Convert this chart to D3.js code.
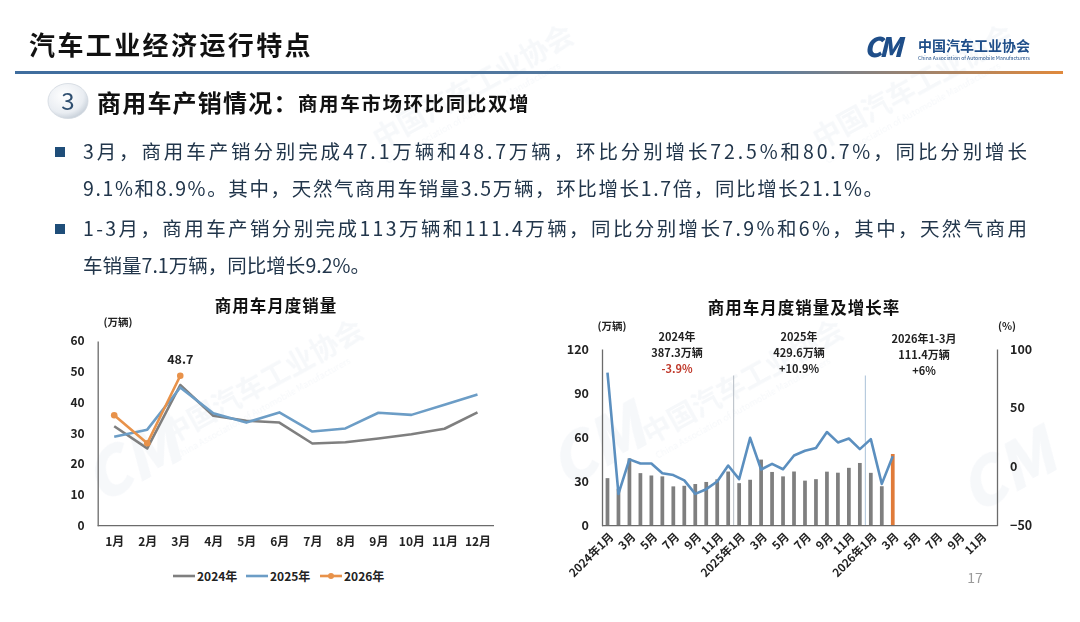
<!DOCTYPE html>
<html>
<head>
<meta charset="utf-8">
<script src="https://d3js.org/d3.v7.min.js"></script>
<style>
  body { margin: 0; background: #fff; }
  svg text { font-family: "Noto Sans CJK SC", "Noto Sans", sans-serif; }
</style>
</head>
<body>
<div id="slide"></div>
<script>
// ---- data ----
var months12 = ["1月","2月","3月","4月","5月","6月","7月","8月","9月","10月","11月","12月"];
var years = [2024, 2025, 2026];

// monthly sales, 10k vehicles
var sales2024 = [32.3, 25.1, 45.7, 35.7, 34.1, 33.5, 26.7, 27.1, 28.3, 29.7, 31.5, 36.8];
var sales2025 = [28.9, 31.2, 44.9, 36.5, 33.5, 36.8, 30.6, 31.6, 36.7, 36.0, 39.3, 42.6];
var sales2026 = [35.9, 26.8, 48.7];

// year-on-year growth, %
var growth2024 = [80, -23, 6.3, 2.8, 2.8, -5.5, -7, -11.5, -23, -19, -12.5, 1.1];
var growth2025 = [-10.5, 24.6, -2.3, 2.5, -2.1, 9.6, 13.6, 16, 29.5, 20.7, 24, 15];
var growth2026 = [23.5, -14.5, 8.9];

var leftTicks = [0, 10, 20, 30, 40, 50, 60];
var salesTicks = [0, 30, 60, 90, 120];
var growthTicks = [-50, 0, 50, 100];

var summaryYears = ["2024年", "2025年", "2026年1-3月"];
var summaryTotals = ["387.3万辆", "429.6万辆", "111.4万辆"];
var summaryGrowth = ["-3.9%", "+10.9%", "+6%"];

var bodyLines = [
  "3月，商用车产销分别完成47.1万辆和48.7万辆，环比分别增长72.5%和80.7%，同比分别增长",
  "9.1%和8.9%。其中，天然气商用车销量3.5万辆，环比增长1.7倍，同比增长21.1%。",
  "1-3月，商用车产销分别完成113万辆和111.4万辆，同比分别增长7.9%和6%，其中，天然气商用",
  "车销量7.1万辆，同比增长9.2%。"
];

// ---- page ----
var W = 1080, H = 622;
var svg = d3.select("#slide").append("svg")
  .attr("width", W).attr("height", H);

var defs = svg.append("defs");
var grad = defs.append("linearGradient").attr("id", "hdr").attr("x1", "0").attr("x2", "1");
grad.append("stop").attr("offset", "0").attr("stop-color", "#3f6d9e");
grad.append("stop").attr("offset", "0.72").attr("stop-color", "#5b7d9f");
grad.append("stop").attr("offset", "1").attr("stop-color", "#e0893c");
var cg = defs.append("radialGradient").attr("id", "ball").attr("cx", "0.4").attr("cy", "0.35").attr("r", "0.7");
cg.append("stop").attr("offset", "0").attr("stop-color", "#ffffff");
cg.append("stop").attr("offset", "0.7").attr("stop-color", "#e9edf2");
cg.append("stop").attr("offset", "1").attr("stop-color", "#c3ccd6");

// faint watermarks
var wm = svg.append("g").attr("opacity", 0.04).attr("fill", "#1f4e89");
[[170, 445], [650, 445], [380, 150], [820, 150]].forEach(function(p) {
  var g = wm.append("g").attr("transform", "translate(" + p[0] + "," + p[1] + ") rotate(-29)");
  g.append("text").attr("font-size", 28).attr("font-weight", 700).text("中国汽车工业协会");
  g.append("text").attr("y", 16).attr("font-size", 9).text("China Association of Automobile Manufacturers");
});
[[100, 505], [565, 490], [975, 515]].forEach(function(p) {
  wm.append("text").attr("transform", "translate(" + p[0] + "," + p[1] + ") rotate(-29)")
    .attr("font-size", 64).attr("font-weight", 900).attr("font-style", "italic").text("CM");
});

// header
svg.append("text").attr("x", 29).attr("y", 55)
  .attr("font-size", 26).attr("font-weight", 700).attr("fill", "#111")
  .attr("letter-spacing", 2.4)
  .text("汽车工业经济运行特点");
svg.append("rect").attr("x", 15).attr("y", 71).attr("width", 1048).attr("height", 3)
  .attr("fill", "url(#hdr)");

// logo
svg.append("text").attr("x", 864).attr("y", 57)
  .attr("font-size", 27).attr("font-weight", 900).attr("font-style", "italic")
  .attr("letter-spacing", -3).attr("fill", "#1f4e89").text("CM");
svg.append("text").attr("x", 918).attr("y", 51)
  .attr("font-size", 14).attr("font-weight", 700).attr("fill", "#1f4e89")
  .attr("textLength", 112).attr("lengthAdjust", "spacingAndGlyphs")
  .text("中国汽车工业协会");
svg.append("text").attr("x", 918).attr("y", 60)
  .attr("font-size", 5).attr("fill", "#1f4e89")
  .attr("textLength", 112).attr("lengthAdjust", "spacingAndGlyphs")
  .text("China Association of Automobile Manufacturers");

// section header
svg.append("ellipse").attr("cx", 68).attr("cy", 101).attr("rx", 20).attr("ry", 17.5)
  .attr("fill", "url(#ball)").attr("stroke", "#d2d8df").attr("stroke-width", 0.8);
svg.append("text").attr("x", 68).attr("y", 110).attr("text-anchor", "middle")
  .attr("font-size", 24).attr("fill", "#2f4f70").text("3");
svg.append("text").attr("x", 97).attr("y", 112)
  .attr("font-size", 24).attr("font-weight", 700).attr("fill", "#111")
  .attr("letter-spacing", 1.2)
  .text("商用车产销情况：");
svg.append("text").attr("x", 298).attr("y", 111)
  .attr("font-size", 19.5).attr("font-weight", 700).attr("fill", "#111")
  .attr("letter-spacing", 1.6)
  .text("商用车市场环比同比双增");

// bullets and body text
var lineY = [159, 196, 236, 273];
var lineW = [944, 800, 944, 287];
[0, 2].forEach(function(i) {
  svg.append("rect").attr("x", 55).attr("y", lineY[i] - 12).attr("width", 10).attr("height", 10)
    .attr("fill", "#1f4e79");
});
bodyLines.forEach(function(t, i) {
  svg.append("text").attr("x", 83).attr("y", lineY[i])
    .attr("font-size", 19.5).attr("fill", "#22364b")
    .attr("textLength", lineW[i]).attr("lengthAdjust", "spacing")
    .text(t);
});

// ---- left chart: monthly sales ----
var L = {x0: 97.7, x1: 494, y0: 525.7, y1: 341};
var xL = d3.scalePoint().domain(months12).range([L.x0, L.x1]).padding(0.5);
var yL = d3.scaleLinear().domain([0, 60]).range([L.y0, L.y1]);
var left = svg.append("g");

left.append("text").attr("x", 276).attr("y", 312).attr("text-anchor", "middle")
  .attr("font-size", 16.5).attr("font-weight", 700).attr("fill", "#111")
  .attr("letter-spacing", 1).text("商用车月度销量");
left.append("text").attr("x", 118).attr("y", 326).attr("text-anchor", "middle")
  .attr("font-size", 10.5).attr("font-weight", 700).attr("fill", "#222").text("(万辆)");

var axL = left.append("g").attr("transform", "translate(" + L.x0 + ",0)")
  .call(d3.axisLeft(yL).tickValues(leftTicks).tickSize(0).tickPadding(13));
var axLB = left.append("g").attr("transform", "translate(0," + L.y0 + ")")
  .call(d3.axisBottom(xL).tickSize(0).tickPadding(12).tickSizeOuter(0));
axLB.select(".domain").attr("d", "M" + L.x0 + ",0H" + L.x1);
[axL, axLB].forEach(function(a) {
  a.select(".domain").attr("stroke", "#6b6b6b").attr("stroke-width", 1.3);
  a.selectAll("text").attr("font-size", 12).attr("font-weight", 700).attr("fill", "#222")
    .attr("font-family", "\"Noto Sans CJK SC\", sans-serif");
});

var seriesL = [
  {name: "2024年", values: sales2024, color: "#7f7f7f", dots: false},
  {name: "2025年", values: sales2025, color: "#6c9dc6", dots: false},
  {name: "2026年", values: sales2026, color: "#e8924a", dots: true}
];
var lineL = d3.line()
  .x(function(d, i) { return xL(months12[i]); })
  .y(function(d) { return yL(d); });
seriesL.forEach(function(s) {
  left.append("path").datum(s.values)
    .attr("d", lineL).attr("fill", "none")
    .attr("stroke", s.color).attr("stroke-width", 2.6).attr("stroke-linejoin", "round");
  if (s.dots) {
    left.selectAll(null).data(s.values).enter().append("circle")
      .attr("cx", function(d, i) { return xL(months12[i]); })
      .attr("cy", function(d) { return yL(d); })
      .attr("r", 3.3).attr("fill", s.color);
  }
});
left.append("text")
  .attr("x", xL(months12[2])).attr("y", yL(sales2026[2]) - 12)
  .attr("text-anchor", "middle").attr("font-size", 12.5).attr("font-weight", 700).attr("fill", "#222")
  .text(sales2026[2].toFixed(1));

// legend
var legX = [173, 246, 320];
seriesL.forEach(function(s, i) {
  var g = left.append("g").attr("transform", "translate(" + legX[i] + ",576)");
  g.append("line").attr("x1", 0).attr("x2", 22).attr("stroke", s.color).attr("stroke-width", 2.6);
  if (s.dots) g.append("circle").attr("cx", 11).attr("r", 3).attr("fill", s.color);
  g.append("text").attr("x", 24).attr("y", 4.5).attr("font-size", 12).attr("font-weight", 700)
    .attr("fill", "#222").text(s.name);
});

// ---- right chart: monthly sales and growth ----
var R = {x0: 602, x1: 997, y0: 525.7, y1: 349};
var monthKeys = [];
years.forEach(function(y) {
  for (var m = 1; m <= 12; m++) monthKeys.push(y + "-" + m);
});
var salesAll = sales2024.concat(sales2025, sales2026);
var growthAll = growth2024.concat(growth2025, growth2026);

var xR = d3.scaleBand().domain(monthKeys).range([R.x0, R.x1]).paddingInner(0.66).paddingOuter(0.33);
var yS = d3.scaleLinear().domain([0, 120]).range([R.y0, R.y1]);
var yG = d3.scaleLinear().domain([-50, 100]).range([R.y0, R.y1]);
var cx = function(k) { return xR(k) + xR.bandwidth() / 2; };
var right = svg.append("g");

right.append("text").attr("x", 804).attr("y", 314).attr("text-anchor", "middle")
  .attr("font-size", 16.5).attr("font-weight", 700).attr("fill", "#111")
  .attr("letter-spacing", 1).text("商用车月度销量及增长率");
right.append("text").attr("x", 612).attr("y", 330).attr("text-anchor", "middle")
  .attr("font-size", 10.5).attr("font-weight", 700).attr("fill", "#222").text("(万辆)");
right.append("text").attr("x", 1007).attr("y", 330).attr("text-anchor", "middle")
  .attr("font-size", 10.5).attr("font-weight", 700).attr("fill", "#222").text("(%)");

// year dividers
[12, 24].forEach(function(i) {
  var xd = (cx(monthKeys[i - 1]) + cx(monthKeys[i])) / 2;
  right.append("line").attr("x1", xd).attr("x2", xd).attr("y1", yS(102)).attr("y2", R.y0)
    .attr("stroke", i === 12 ? "#b5bcc4" : "#a9c1d8").attr("stroke-width", 1);
});

// bars
right.selectAll(".bar").data(salesAll).enter().append("rect")
  .attr("class", "bar")
  .attr("x", function(d, i) { return xR(monthKeys[i]); })
  .attr("width", xR.bandwidth())
  .attr("y", function(d) { return yS(d); })
  .attr("height", function(d) { return R.y0 - yS(d); })
  .attr("fill", function(d, i) { return i === salesAll.length - 1 ? "#e07b39" : "#7f7f7f"; });

// growth line
right.append("path").datum(growthAll)
  .attr("d", d3.line()
    .x(function(d, i) { return cx(monthKeys[i]); })
    .y(function(d) { return yG(d); }))
  .attr("fill", "none").attr("stroke", "#5b8fbf").attr("stroke-width", 2.6)
  .attr("stroke-linejoin", "round");

// axes
var axS = right.append("g").attr("transform", "translate(" + R.x0 + ",0)")
  .call(d3.axisLeft(yS).tickValues(salesTicks).tickSize(0).tickPadding(13));
var axG = right.append("g").attr("transform", "translate(" + R.x1 + ",0)")
  .call(d3.axisRight(yG).tickValues(growthTicks).tickSize(0).tickPadding(13));
[axS, axG].forEach(function(a) {
  a.select(".domain").attr("stroke", "#6b6b6b").attr("stroke-width", 1.3);
  a.selectAll("text").attr("font-size", 12.5).attr("font-weight", 700).attr("fill", "#222")
    .attr("font-family", "\"Noto Sans CJK SC\", sans-serif");
});
right.append("line").attr("x1", R.x0).attr("x2", R.x1).attr("y1", R.y0).attr("y2", R.y0)
  .attr("stroke", "#6b6b6b").attr("stroke-width", 1.3);

// month labels, every other month
right.selectAll(".mlab").data(monthKeys.filter(function(k, i) { return i % 2 === 0; }))
  .enter().append("text")
  .attr("class", "mlab")
  .attr("transform", function(k) { return "translate(" + (cx(k) + 4) + "," + (R.y0 + 9) + ") rotate(-45)"; })
  .attr("text-anchor", "end").attr("dy", "0.35em")
  .attr("font-size", 11.5).attr("font-weight", 700).attr("fill", "#222")
  .text(function(k) {
    var p = k.split("-");
    return p[1] === "1" ? p[0] + "年1月" : p[1] + "月";
  });

// yearly summaries, one multi-line label per year
var sumX = [677, 799, 924];
summaryYears.forEach(function(t, i) {
  var y0 = i === 2 ? 343 : 341;
  var tx = right.append("text").attr("text-anchor", "middle")
    .attr("font-size", 11).attr("font-weight", 700).attr("fill", "#222");
  tx.append("tspan").attr("x", sumX[i]).attr("y", y0).text(t);
  tx.append("tspan").attr("x", sumX[i]).attr("dy", 16).text(summaryTotals[i]);
  tx.append("tspan").attr("x", sumX[i]).attr("dy", 16)
    .attr("fill", i === 0 ? "#c0392b" : "#222").text(summaryGrowth[i]);
});

// page number
svg.append("text").attr("x", 975).attr("y", 583).attr("text-anchor", "middle")
  .attr("font-size", 14).attr("fill", "#9a9a9a").text("17");
</script>
</body>
</html>
